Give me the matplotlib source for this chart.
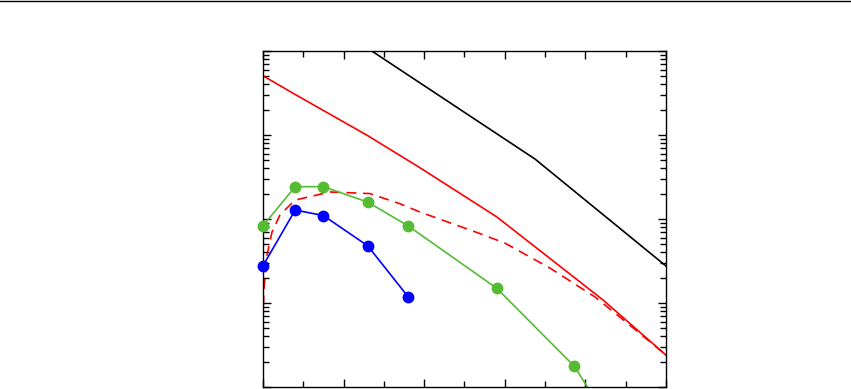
import matplotlib
matplotlib.use("Agg")
import matplotlib.pyplot as plt
from matplotlib.lines import Line2D
from matplotlib.ticker import MultipleLocator, LogLocator, NullFormatter

# black solid curve
black_x = [0, 10, 33.75, 50]
black_y = [7.0, 1.67, 0.0518, 0.00276]

# red solid curve
red_x = [0, 3.97, 12.87, 19.48, 29.03, 42.18, 50]
red_y = [0.508, 0.305, 0.1, 0.0408, 0.01057, 0.00109, 0.00024]

# red dashed curve
dash_x = [0, 0.12, 0.5, 1.12, 2.11, 3.97, 8.31, 13.27, 17.0, 19.5, 26.4, 30.0, 35.6, 41.2, 45.5, 50]
dash_y = [0.00059, 0.00143, 0.00373, 0.0070, 0.0112, 0.0168, 0.0210, 0.0201,
          0.0152, 0.0121, 0.0070, 0.00518, 0.00261, 0.00118, 0.000547, 0.00024]

# green markers
green_x = [0, 4, 7.5, 13, 18, 29, 38.6, 45]
green_y = [0.0083, 0.0243, 0.0243, 0.0159, 0.0083, 0.0015, 0.000178, 0.000019]

# blue markers
blue_x = [0, 4, 7.5, 13, 18]
blue_y = [0.00278, 0.0128, 0.011, 0.0048, 0.00119]

YMIN, YMAX = 1e-4, 1

fig = plt.figure(figsize=(8.51, 3.89), dpi=100)
ax = fig.add_axes([0.309, 0.005, 0.4736, 0.8638])

ax.plot(black_x, black_y, color="black", lw=1.2)
ax.plot(red_x, red_y, color="red", lw=1.2)
ax.plot(dash_x, dash_y, color="red", lw=1.2, ls=(0, (6, 4)))

for xs, ys, c in [(green_x, green_y, "#55bb33"), (blue_x, blue_y, "blue")]:
    ax.plot(xs, ys, color=c, lw=1.2)
    # markers drawn unclipped so the ones on the left spine stay whole
    inside = [(x, y) for x, y in zip(xs, ys) if YMIN <= y <= YMAX]
    ax.plot([p[0] for p in inside], [p[1] for p in inside], ls="none",
            marker="o", ms=7.5, color=c, mec=c, clip_on=False, zorder=3)

ax.set_yscale("log")
ax.set_xlim(0, 50)
ax.set_ylim(YMIN, YMAX)

ax.xaxis.set_major_locator(MultipleLocator(10))
ax.xaxis.set_minor_locator(MultipleLocator(5))
ax.yaxis.set_major_locator(LogLocator(base=10))
ax.yaxis.set_minor_locator(LogLocator(base=10, subs=range(2, 10)))
ax.yaxis.set_minor_formatter(NullFormatter())

ax.tick_params(which="both", direction="in", top=True, right=True,
               labelbottom=False, labelleft=False, width=1)
ax.tick_params(which="major", length=6)
ax.tick_params(which="minor", length=4)
for s in ax.spines.values():
    s.set_linewidth(1)

# rule across the top of the figure
fig.add_artist(Line2D([0, 1], [0.997, 0.997], color="black", lw=1,
                      transform=fig.transFigure))

fig.savefig("out.png", dpi=100)
